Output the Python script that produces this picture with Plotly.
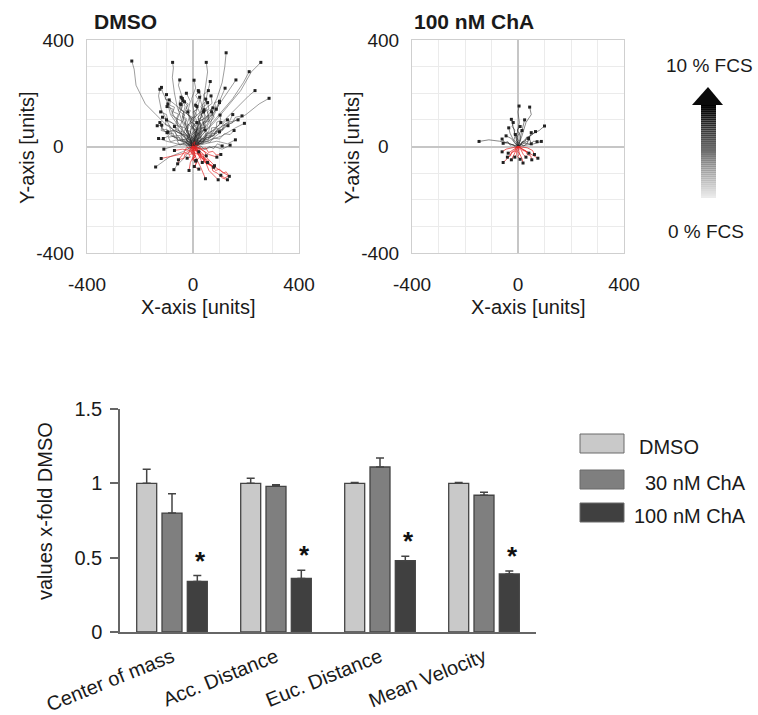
import plotly.graph_objects as go

W, H = 758, 715


def px(x):
    return x / W


def py(y):
    return 1 - y / H


# ------------------------------------------------------------------ data
# cell tracks (units), each starts at the origin; last point = end position
dmso_black_tracks = [
    [(0, 0), (-20, 30), (-60, 55), (-100, 80), (-140, 120), (-180, 160), (-215, 230), (-222, 290), (-231, 321)],
    [(0, 0), (-15, 40), (-40, 90), (-60, 150), (-70, 200), (-78, 260), (-74, 295), (-77, 316)],
    [(0, 0), (10, 50), (30, 110), (40, 170), (48, 230), (55, 280), (50, 316)],
    [(0, 0), (20, 60), (60, 120), (90, 180), (110, 240), (120, 300), (125, 352)],
    [(0, 0), (30, 40), (80, 90), (130, 150), (180, 210), (220, 280), (256, 316)],
    [(0, 0), (40, 50), (90, 110), (150, 180), (190, 240), (212, 281)],
    [(0, 0), (30, 70), (80, 130), (120, 190), (150, 230), (162, 250)],
    [(0, 0), (-10, 60), (5, 120), (-5, 180), (10, 220), (4, 249)],
    [(0, 0), (15, 70), (40, 140), (55, 200), (65, 244)],
    [(0, 0), (40, 60), (70, 110), (100, 170), (121, 219)],
    [(0, 0), (50, 40), (110, 90), (170, 150), (210, 190), (234, 210)],
    [(0, 0), (60, 30), (130, 80), (200, 120), (250, 160), (287, 181)],
    [(0, 0), (50, 20), (110, 40), (160, 70), (194, 87)],
    [(0, 0), (-30, 50), (-70, 110), (-100, 170), (-115, 205), (-119, 222)],
    [(0, 0), (-50, 30), (-90, 80), (-120, 140), (-130, 190), (-125, 215)],
    [(0, 0), (-40, -20), (-90, -40), (-141, -77)],
    [(0, 0), (-30, -40), (-60, -70), (-72, -87)],
    [(0, 0), (-40, 20), (-80, 40), (-110, 60), (-125, 90)],
    [(0, 0), (-20, 40), (-50, 70), (-85, 120), (-95, 160)],
    [(0, 0), (-30, 30), (-55, 60), (-60, 100), (-45, 140), (-40, 180)],
    [(0, 0), (10, 40), (-10, 90), (-20, 130), (-10, 170), (-25, 200)],
    [(0, 0), (20, 30), (30, 70), (20, 110), (35, 150), (25, 185)],
    [(0, 0), (40, 30), (60, 60), (70, 100), (90, 140), (100, 165)],
    [(0, 0), (60, 20), (100, 50), (130, 80), (150, 120)],
    [(0, 0), (50, 10), (90, 20), (130, 10), (160, 25)],
    [(0, 0), (40, -10), (80, 0), (110, -10), (140, 5)],
    [(0, 0), (-60, 10), (-100, 20), (-130, 30)],
    [(0, 0), (-45, 50), (-80, 90), (-115, 110)],
    [(0, 0), (20, 80), (-20, 120), (-60, 150), (-90, 175)],
    [(0, 0), (5, 50), (30, 80), (50, 110), (40, 130)],
    [(0, 0), (-10, 30), (-35, 45), (-70, 60), (-95, 55)],
    [(0, 0), (25, 20), (50, 50), (80, 60), (105, 90)],
    [(0, 0), (-20, 60), (-40, 110), (-30, 150), (-55, 230), (-50, 250)],
    [(0, 0), (30, 20), (70, 40), (100, 70), (130, 90), (170, 100)],
    [(0, 0), (-15, 20), (-45, 10), (-80, 0), (-110, -10)],
    [(0, 0), (15, 60), (0, 90), (15, 140), (30, 190), (20, 210)],
    [(0, 0), (-25, 70), (-5, 100), (-20, 130)],
    [(0, 0), (45, 35), (55, 80), (80, 110), (70, 130)],
    [(0, 0), (-12, 18), (-5, 35), (-25, 52), (-18, 75), (-40, 92), (-32, 118), (-55, 135), (-48, 160)],
    [(0, 0), (10, 15), (-5, 32), (12, 50), (0, 70), (18, 88), (8, 110), (25, 128), (15, 150)],
    [(0, 0), (18, 10), (30, 30), (22, 52), (45, 68), (38, 90), (60, 105), (55, 130), (75, 145)],
    [(0, 0), (-20, 8), (-35, 25), (-55, 22), (-70, 40), (-90, 35), (-100, 55), (-120, 60), (-118, 80)],
    [(0, 0), (15, 22), (35, 18), (48, 40), (70, 45), (82, 65), (105, 70), (118, 92), (130, 100)],
    [(0, 0), (-8, 25), (-28, 30), (-38, 55), (-62, 62), (-70, 85), (-95, 95), (-100, 120), (-122, 130)],
    [(0, 0), (22, 5), (40, 22), (62, 15), (80, 32), (100, 28), (118, 48), (140, 45), (155, 60)],
    [(0, 0), (5, 28), (-12, 45), (-5, 70), (-22, 88), (-12, 112), (-30, 130), (-22, 155), (-38, 172)],
    [(0, 0), (28, 28), (20, 55), (42, 75), (35, 100), (58, 118), (50, 145), (72, 162), (68, 190)],
    [(0, 0), (-18, -8), (-30, 12), (-50, 5), (-62, 25), (-85, 18), (-95, 38), (-112, 30)],
    [(0, 0), (12, -10), (30, 2), (45, -12), (62, 0), (78, -8), (92, 10), (110, 2)],
    [(0, 0), (-5, 20), (15, 35), (8, 58), (30, 72), (22, 95), (45, 105), (40, 130), (60, 140), (55, 165)],
    [(0, 0), (-25, 15), (-20, 40), (-45, 48), (-40, 72), (-65, 80), (-60, 105), (-80, 118), (-75, 140), (-98, 150)],
    [(0, 0), (20, 40), (10, 65), (28, 85), (18, 110), (38, 128), (30, 150), (48, 170), (40, 195), (58, 210)],
    [(0, 0), (35, 15), (50, 35), (75, 38), (88, 58), (112, 62), (122, 85), (148, 88), (160, 110), (185, 115)],
    [(0, 0), (-10, 12), (5, 25), (-8, 42), (10, 55), (-2, 75), (15, 90)],
    [(0, 0), (8, -5), (20, 10), (15, 28), (32, 35), (28, 55), (45, 62)],
    [(0, 0), (-15, 5), (-22, 22), (-40, 28), (-45, 48), (-62, 55), (-70, 75)],
    [(0, 0), (-10, 15), (-2, 28), (-15, 40), (-8, 55), (-22, 62), (-18, 80), (-30, 88), (-25, 105), (-40, 112), (-35, 130), (-50, 140), (-45, 158)],
    [(0, 0), (8, 12), (-4, 25), (10, 38), (2, 52), (18, 60), (10, 78), (25, 85), (20, 102), (35, 110), (28, 128), (42, 138)],
    [(0, 0), (-15, 10), (-25, 28), (-40, 25), (-48, 42), (-62, 40), (-68, 58), (-85, 60), (-88, 78), (-105, 82), (-100, 100)],
    [(0, 0), (12, 18), (25, 12), (32, 30), (48, 28), (52, 48), (68, 50), (70, 70), (88, 72), (90, 92), (105, 98), (102, 118)],
    [(0, 0), (-5, 20), (-18, 28), (-12, 45), (-25, 55), (-18, 70), (-32, 80), (-25, 98), (-38, 108), (-30, 125), (-45, 138), (-38, 155), (-52, 168), (-45, 185)],
    [(0, 0), (5, 18), (18, 25), (12, 42), (25, 52), (18, 68), (32, 78), (25, 95), (40, 105), (32, 122), (48, 132), (40, 150), (55, 160), (48, 178)],
    [(0, 0), (-20, 5), (-28, 20), (-45, 18), (-52, 35), (-70, 32), (-75, 50), (-92, 48), (-98, 65), (-115, 62), (-120, 80), (-135, 78)],
    [(0, 0), (18, 5), (25, 20), (42, 18), (48, 35), (65, 32), (70, 50), (88, 48), (92, 65), (110, 62), (115, 80), (132, 78)],
    [(0, 0), (-8, 22), (5, 35), (-5, 50), (8, 62), (-2, 78), (12, 90), (2, 105), (15, 118), (5, 132), (18, 145), (8, 160), (20, 175), (10, 192), (22, 205)],
    [(0, 0), (-25, 25), (-15, 40), (-35, 52), (-28, 68), (-48, 78), (-42, 95), (-62, 105), (-55, 122), (-75, 130), (-70, 148), (-88, 155), (-85, 172), (-105, 178), (-100, 195)],
    [(0, 0), (20, 22), (12, 38), (32, 48), (25, 65), (45, 72), (40, 90), (58, 98), (52, 115), (72, 120), (68, 140), (85, 145), (82, 165), (100, 170)],
    [(0, 0), (-12, 12), (-8, 30), (-22, 38), (-15, 55), (-30, 62), (-22, 80), (-5, 88), (-10, 105), (5, 112), (0, 130), (15, 138), (10, 155)],
    [(0, 0), (10, 8), (8, 25), (22, 30), (18, 48), (35, 52), (30, 70), (48, 72), (45, 90), (62, 95), (58, 112), (75, 118), (70, 135), (88, 140)],
    [(0, 0), (-10, -5), (-20, 10), (-35, 8), (-40, 25), (-58, 22), (-62, 40), (-78, 38), (-82, 55), (-98, 52)],
    [(0, 0), (15, -3), (20, 12), (38, 10), (42, 28), (58, 25), (62, 42), (80, 40), (85, 58), (100, 55)],
    [(0, 0), (-3, 15), (12, 22), (5, 38), (20, 45), (12, 62), (-2, 68), (5, 85), (-10, 92), (-2, 110), (-18, 118), (-10, 135), (-25, 142), (-18, 160), (-32, 168)],
]
dmso_red_tracks = [
    [(0, 0), (20, -30), (50, -60), (80, -75), (110, -95), (137, -112)],
    [(0, 0), (30, -20), (60, -50), (81, -72)],
    [(0, 0), (10, -40), (30, -80), (47, -121)],
    [(0, 0), (-20, -20), (-50, -30), (-90, -40), (-120, -45)],
    [(0, 0), (5, -30), (-10, -60), (-15, -90)],
    [(0, 0), (30, -10), (60, -30), (90, -40)],
    [(0, 0), (-10, -15), (-40, -10), (-70, -15)],
    [(0, 0), (15, -15), (25, -40), (10, -55)],
    [(0, 0), (40, -40), (60, -90), (80, -110), (95, -125)],
    [(0, 0), (-25, -5), (-35, -25), (-55, -50)],
    [(0, 0), (20, -5), (45, -20), (50, -35)],
    [(0, 0), (-5, -20), (20, -30), (35, -60)],
    [(0, 0), (8, -12), (-5, -22), (10, -35), (0, -48), (15, -60), (5, -75)],
    [(0, 0), (15, -8), (22, -25), (38, -30), (42, -48), (58, -52), (62, -70), (78, -78)],
    [(0, 0), (-10, -8), (-15, -25), (-30, -28), (-35, -45), (-50, -48), (-58, -65)],
    [(0, 0), (20, 5), (32, -10), (48, -5), (58, -22), (75, -18), (88, -32), (105, -30)],
    [(0, 0), (5, -15), (25, -18), (30, -35), (48, -45), (52, -65), (70, -72), (75, -92), (92, -100), (110, -118), (130, -125)],
    [(0, 0), (-8, -20), (5, -32), (-2, -50), (12, -58), (8, -78), (22, -85)],
    [(0, 0), (6, -8), (-4, -15), (8, -22), (-2, -30), (10, -38), (0, -45), (12, -52)],
    [(0, 0), (-6, -6), (2, -14), (-10, -18), (-4, -28), (-16, -30), (-10, -40), (-22, -44)],
    [(0, 0), (10, -4), (8, -14), (20, -16), (18, -28), (30, -30), (28, -42), (42, -45), (40, -58), (55, -60)],
    [(0, 0), (-2, 10), (8, 18), (4, 8), (14, 2), (12, -10), (24, -8), (22, -20)],
    [(0, 0), (30, -35), (45, -60), (70, -70), (85, -90), (100, -85), (115, -100), (125, -95), (135, -110), (120, -118), (105, -108)],
]
cha_black_tracks = [
    [(0, 0), (-30, 10), (-70, 20), (-110, 25), (-147, 19)],
    [(0, 0), (-5, 40), (5, 90), (0, 130), (4, 152)],
    [(0, 0), (15, 40), (30, 90), (50, 120), (44, 148)],
    [(0, 0), (-10, 40), (-20, 80), (-25, 102)],
    [(0, 0), (10, 40), (20, 80), (25, 100)],
    [(0, 0), (30, 30), (60, 50), (80, 60), (100, 77)],
    [(0, 0), (25, 20), (50, 40), (66, 56)],
    [(0, 0), (30, 5), (60, 10), (88, 19)],
    [(0, 0), (-20, 5), (-40, 15), (-56, 12)],
    [(0, 0), (-15, 20), (-30, 50), (-35, 70)],
    [(0, 0), (10, 25), (5, 50), (15, 60)],
    [(0, 0), (20, 10), (45, 25), (50, 10)],
    [(0, 0), (-10, 10), (-25, 30), (-45, 40)],
    [(0, 0), (-5, 15), (-15, 25), (-10, 45)],
    [(0, 0), (15, 15), (35, 10), (40, 30)],
    [(0, 0), (-8, 10), (2, 22), (-6, 35), (5, 48), (-3, 62), (8, 75)],
    [(0, 0), (10, 5), (15, 18), (28, 20), (32, 35), (45, 38), (50, 52)],
    [(0, 0), (-10, -3), (-18, 8), (-30, 5), (-38, 18), (-50, 15), (-60, 28)],
    [(0, 0), (5, 12), (-5, 22), (-2, 38), (-15, 45), (-12, 62), (-22, 75), (-18, 90)],
    [(0, 0), (12, 8), (22, 2), (35, 12), (48, 8), (58, 20), (72, 18)],
]
cha_red_tracks = [
    [(0, 0), (-20, -20), (-40, -45), (-56, -60)],
    [(0, 0), (-10, -20), (-20, -40), (-25, -50)],
    [(0, 0), (5, -25), (15, -45), (19, -62)],
    [(0, 0), (25, -15), (50, -30), (75, -44)],
    [(0, 0), (20, -10), (35, -20), (41, -25)],
    [(0, 0), (-15, -10), (-30, -20), (-37, -25)],
    [(0, 0), (-5, -15), (-5, -30), (-12, -40)],
    [(0, 0), (10, -10), (20, -30), (30, -40)],
    [(0, 0), (-25, -5), (-45, -10), (-60, -20)],
    [(0, 0), (35, -5), (55, -15), (62, -30)],
    [(0, 0), (5, -10), (-3, -18), (6, -28), (-2, -38), (8, -48)],
    [(0, 0), (-8, -6), (-12, -18), (-25, -22), (-28, -35), (-40, -40)],
    [(0, 0), (10, -5), (18, -15), (30, -18), (35, -30), (48, -35), (52, -50)],
]

axis_ticks = [-400, -300, -200, -100, 0, 100, 200, 300, 400]
axis_ticktext = ["-400", "", "", "", "0\u00a0\u00a0", "", "", "", "400"]
x_axis_ticktext = ["-400", "", "", "", "0", "", "", "", "400"]

metrics = ["Center of mass", "Acc. Distance", "Euc. Distance", "Mean Velocity"]
groups = ["DMSO", "30 nM ChA", "100 nM ChA"]
dmso_vals = [1.0, 1.0, 1.0, 1.0]
dmso_err = [0.095, 0.035, 0.006, 0.006]
cha30_vals = [0.80, 0.98, 1.11, 0.92]
cha30_err = [0.13, 0.01, 0.06, 0.02]
cha100_vals = [0.34, 0.36, 0.48, 0.39]
cha100_err = [0.04, 0.055, 0.03, 0.02]
cha100_signif = [True, True, True, True]
bar_ticks = [0, 0.5, 1, 1.5]
bar_ticktext = ["0", "0.5", "1", "1.5"]

# ------------------------------------------------------------------ style
FONT = "Liberation Sans, Arial, sans-serif"
TXT = "#1a1a1a"
bar_colors = ["#c9c9c9", "#7f7f7f", "#404040"]


def flatten(tracks):
    xs, ys = [], []
    for t in tracks:
        for (x, y) in t:
            xs.append(x)
            ys.append(y)
        xs.append(None)
        ys.append(None)
    return xs, ys


fig = go.Figure()

for tracks, color, xa, ya in [
    (dmso_black_tracks, "rgba(40,40,40,0.5)", "x", "y"),
    (dmso_red_tracks, "rgba(228,35,35,0.75)", "x", "y"),
    (cha_black_tracks, "rgba(35,35,35,0.6)", "x2", "y2"),
    (cha_red_tracks, "rgba(228,35,35,0.8)", "x2", "y2"),
]:
    xs, ys = flatten(tracks)
    fig.add_trace(go.Scatter(x=xs, y=ys, mode="lines", line=dict(color=color, width=0.9),
                             xaxis=xa, yaxis=ya, showlegend=False, hoverinfo="skip"))
    fig.add_trace(go.Scatter(x=[t[-1][0] for t in tracks], y=[t[-1][1] for t in tracks],
                             mode="markers", marker=dict(color="#222", size=3, symbol="square"),
                             xaxis=xa, yaxis=ya, showlegend=False, hoverinfo="skip"))

for name, vals, errs, col in [
    (groups[0], dmso_vals, dmso_err, bar_colors[0]),
    (groups[1], cha30_vals, cha30_err, bar_colors[1]),
    (groups[2], cha100_vals, cha100_err, bar_colors[2]),
]:
    fig.add_trace(go.Bar(
        x=metrics, y=vals, name=name, xaxis="x3", yaxis="y3", showlegend=False,
        marker=dict(color=col, line=dict(color="#444", width=1.3)),
        error_y=dict(type="data", array=errs, arrayminus=[0] * len(errs), symmetric=False,
                     color="#444", thickness=1.5, width=4),
    ))

annotations = []
for i, m in enumerate(metrics):
    if cha100_signif[i]:
        annotations.append(dict(xref="x3", yref="y3", x=m, y=cha100_vals[i] + cha100_err[i],
                                xshift=28, yshift=15, text="<b>*</b>", showarrow=False,
                                yanchor="middle", font=dict(family=FONT, size=26, color="#111")))


def traj_axis(domain, anchor, is_x):
    d = dict(domain=domain, anchor=anchor, range=[-400, 400], tickmode="array",
             tickvals=axis_ticks, ticktext=x_axis_ticktext if is_x else axis_ticktext,
             showgrid=True, gridcolor="#ebebeb",
             gridwidth=1, zeroline=True, zerolinecolor="#c6c6c6", zerolinewidth=1.5,
             showline=True, linecolor="#cfcfcf", linewidth=1, mirror=True, ticks="",
             tickfont=dict(family=FONT, size=19, color=TXT), fixedrange=True, automargin=False)
    d["ticklabelstandoff"] = 14 if is_x else 8
    return d


top_y = [py(253), py(40)]
layout = dict(
    width=W, height=H, margin=dict(l=0, r=0, t=0, b=0, pad=0, autoexpand=False),
    paper_bgcolor="white", plot_bgcolor="white",
    font=dict(family=FONT, color=TXT),
    barmode="group", bargap=0.27, bargroupgap=0.21,
    xaxis=traj_axis([px(87), px(299)], "y", True),
    yaxis=traj_axis(top_y, "x", False),
    xaxis2=traj_axis([px(412), px(624)], "y2", True),
    yaxis2=traj_axis(top_y, "x2", False),
    xaxis3=dict(domain=[px(120), px(536)], anchor="y3", showline=True, linecolor="#666",
                linewidth=1.5, ticks="", tickangle=-22, ticklabelstandoff=4, automargin=False,
                tickfont=dict(family=FONT, size=20, color=TXT)),
    yaxis3=dict(domain=[py(632), py(409)], anchor="x3", range=[0, 1.5], tickmode="array",
                tickvals=bar_ticks, ticktext=bar_ticktext, showline=True, linecolor="#666",
                linewidth=1.5, ticks="outside", ticklen=8, tickcolor="#666", tickwidth=1.5,
                showgrid=False, zeroline=False, ticklabelstandoff=4, automargin=False,
                tickfont=dict(family=FONT, size=20, color=TXT)),
)


def ann(x, y, text, size=19, xanchor="center", angle=0, bold=False):
    return dict(xref="paper", yref="paper", x=px(x), y=py(y), text=f"<b>{text}</b>" if bold else text,
                showarrow=False, xanchor=xanchor, yanchor="middle", textangle=angle,
                font=dict(family=FONT, size=size, color=TXT))


annotations += [
    ann(92, 21, "DMSO", size=21, xanchor="left", bold=True),
    ann(412, 21, "100 nM ChA", size=21, xanchor="left", bold=True),
    ann(198, 307, "X-axis [units]", size=20),
    ann(528, 307, "X-axis [units]", size=20),
    ann(27, 148, "Y-axis [units]", size=20, angle=-90),
    ann(352, 148, "Y-axis [units]", size=20, angle=-90),
    ann(45, 511, "values x-fold DMSO", size=20, angle=-90),
    ann(709, 65, "10 % FCS", size=19),
    ann(706, 232, "0 % FCS", size=19),
    ann(637, 447, groups[0], size=20, xanchor="left"),
    ann(643, 483, groups[1], size=20, xanchor="left"),
    ann(632, 516, groups[2], size=20, xanchor="left"),
]

shapes = []
for (y0, y1), col in zip([(434, 453), (470, 489), (503, 522)], bar_colors):
    shapes.append(dict(type="rect", xref="paper", yref="paper", x0=px(580), x1=px(624),
                       y0=py(y1), y1=py(y0), fillcolor=col, line=dict(color="#6a6a6a", width=1)))
N = 46
top, bot = 104, 198
for i in range(N):
    a = top + (bot - top) * i / N
    b = top + (bot - top) * (i + 1) / N
    g = int(round(235 * (i / (N - 1)) ** 1.1))
    shapes.append(dict(type="rect", xref="paper", yref="paper", x0=px(701), x1=px(716),
                       y0=py(b), y1=py(a), fillcolor=f"rgb({g},{g},{g})", line=dict(width=0)))
shapes.append(dict(type="path", xref="paper", yref="paper",
                   path=f"M {px(692)},{py(105)} L {px(723)},{py(105)} L {px(708)},{py(87)} Z",
                   fillcolor="#0a0a0a", line=dict(width=0)))

layout["annotations"] = annotations
layout["shapes"] = shapes
fig.update_layout(**layout)
fig.write_html("out.html", config={"displayModeBar": False},
               post_script="document.body.style.margin='0';document.body.style.overflow='hidden';")
